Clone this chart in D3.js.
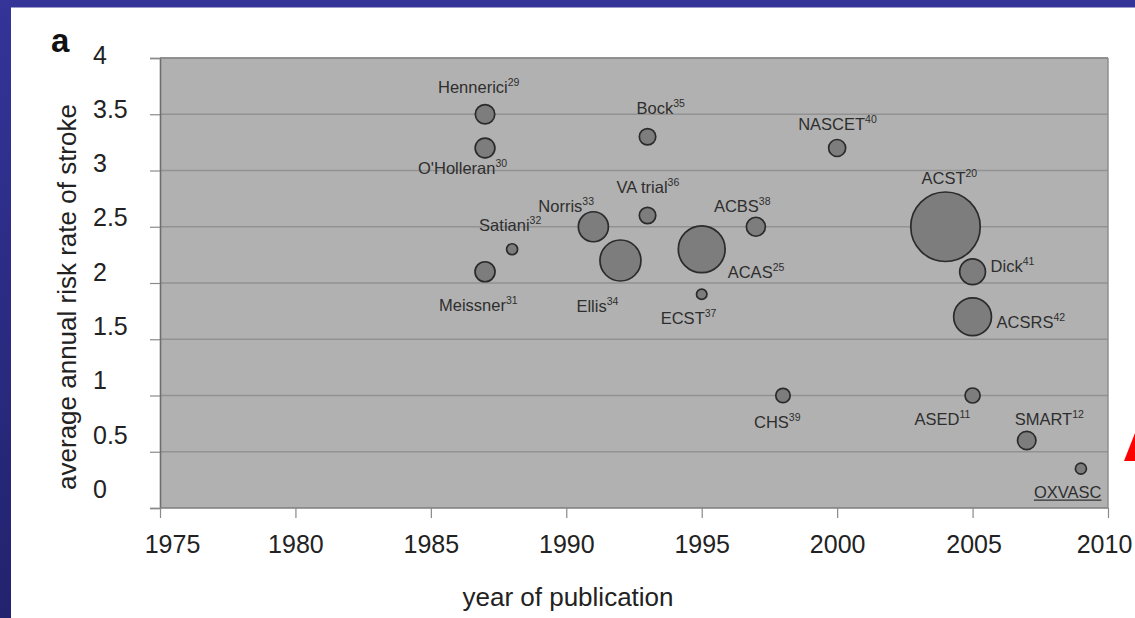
<!DOCTYPE html>
<html>
<head>
<meta charset="utf-8">
<script src="https://cdn.jsdelivr.net/npm/d3@7"></script>
<style>
  html, body { margin: 0; padding: 0; background: #fff; }
  svg { display: block; }
  text { font-family: "Liberation Sans", Arial, sans-serif; }
</style>
</head>
<body>
<svg id="chart" width="1135" height="618"></svg>
<script>
// ---------- data ----------
const studies = ["Hennerici", "O'Holleran", "Meissner", "Satiani", "Norris", "Ellis", "VA trial", "Bock",
                 "ACAS", "ECST", "ACBS", "NASCET", "CHS", "ACST", "Dick", "ACSRS", "ASED", "SMART", "OXVASC"];
const refs    = ["29", "30", "31", "32", "33", "34", "36", "35", "25", "37", "38", "40", "39", "20", "41", "42", "11", "12", ""];
const years   = [1987, 1987, 1987, 1988, 1991, 1992, 1993, 1993, 1995, 1995, 1997, 2000, 1998, 2004, 2005, 2005, 2005, 2007, 2009];
const rates   = [3.5, 3.2, 2.1, 2.3, 2.5, 2.2, 2.6, 3.3, 2.3, 1.9, 2.5, 3.2, 1.0, 2.5, 2.1, 1.7, 1.0, 0.6, 0.35];
const sizes   = [246, 256, 261, 79, 588, 1098, 176, 176, 1430, 71, 236, 189, 135, 3150, 435, 933, 147, 221, 79];
const yTicks  = [0, 0.5, 1, 1.5, 2, 2.5, 3, 3.5, 4];
const xTicks  = [1975, 1980, 1985, 1990, 1995, 2000, 2005, 2010];

// label layout (offset of text start / baseline from bubble centre)
const labelDx = [-47, -67, -46, -33, -55, -44, -31, -11, 26, -41, -42, -39, -29, -24, 18, 24, -58, -12, -47];
const labelDy = [-21, 26, 39, -18, -15, 51, -23, -23, 29, 30, -15, -18, 32, -43, 0, 11, 29, -16, 29];

// ---------- drawing ----------
const svg = d3.select("#chart");
const defs = svg.append("defs");
const grad = defs.append("linearGradient").attr("id", "bg").attr("x1", 0).attr("y1", 0).attr("x2", 0).attr("y2", 1);
grad.append("stop").attr("offset", "0%").attr("stop-color", "#343499");
grad.append("stop").attr("offset", "100%").attr("stop-color", "#22226e");

svg.append("rect").attr("width", 1135).attr("height", 618).attr("fill", "url(#bg)");
svg.append("rect").attr("x", 11).attr("y", 7.5).attr("width", 1135).attr("height", 618).attr("fill", "#ffffff");

const x = d3.scaleLinear().domain([1975, 2010]).range([160, 1108]);
const y = d3.scaleLinear().domain([0, 4]).range([508, 58]);
const yLab = d3.scaleLinear().domain([0, 4]).range([489, 54.5]);
const r = d3.scaleSqrt().domain([0, 3200]).range([0, 35]);

// plot background
svg.append("rect")
  .attr("x", x(1975)).attr("y", y(4))
  .attr("width", x(2010) - x(1975)).attr("height", y(0) - y(4))
  .attr("fill", "#b1b1b1");

// gridlines
svg.append("g").selectAll("line").data(yTicks.filter(d => d > 0)).join("line")
  .attr("x1", x(1975)).attr("x2", x(2010))
  .attr("y1", d => y(d)).attr("y2", d => y(d))
  .attr("stroke", "#929292").attr("stroke-width", 1.3);

// y axis ticks (marks)
const yAxis = svg.append("g").attr("transform", `translate(${x(1975)},0)`)
  .call(d3.axisLeft(y).tickValues(yTicks).tickSize(10).tickFormat(""));
yAxis.select(".domain").attr("stroke", "#6e6e6e").attr("stroke-width", 1.6);
yAxis.selectAll(".tick line").attr("stroke", "#8a8a8a").attr("stroke-width", 1.2);

// y tick labels
svg.append("g").selectAll("text").data(yTicks).join("text")
  .attr("x", 93).attr("y", d => yLab(d)).attr("dy", "0.36em")
  .attr("font-size", 25).attr("fill", "#222")
  .text(d => d3.format("")(d));

// x axis
const xAxis = svg.append("g").attr("transform", `translate(0,${y(0)})`)
  .call(d3.axisBottom(x).tickValues(xTicks).tickSize(10).tickPadding(17).tickFormat(d3.format("d")));
xAxis.select(".domain").attr("stroke", "#7e7e7e").attr("stroke-width", 1.6).attr("d", `M${x(1975)},0H${x(2010)}`);
xAxis.selectAll(".tick line").attr("stroke", "#8a8a8a").attr("stroke-width", 1.2);
xAxis.selectAll(".tick text").attr("font-size", 25).attr("fill", "#222")
  .attr("font-family", "Liberation Sans, Arial, sans-serif")
  .attr("dx", d => d === 1975 ? 12 : d === 2010 ? -4 : d === 2005 ? 1 : 0);

// right border
svg.append("line").attr("x1", x(2010)).attr("x2", x(2010)).attr("y1", y(4)).attr("y2", y(0))
  .attr("stroke", "#8a8a8a").attr("stroke-width", 1.4);
svg.append("line").attr("x1", x(1975)).attr("x2", x(2010)).attr("y1", y(4)).attr("y2", y(4))
  .attr("stroke", "#8a8a8a").attr("stroke-width", 1.4);

// bubbles
const idx = d3.range(studies.length);
svg.append("g").selectAll("circle").data(idx).join("circle")
  .attr("cx", i => x(years[i])).attr("cy", i => y(rates[i]))
  .attr("r", i => r(sizes[i]))
  .attr("fill", "#7d7d7d").attr("stroke", "#2b2b2b").attr("stroke-width", 1.7);

// labels
const lab = svg.append("g").selectAll("text").data(idx).join("text")
  .attr("x", i => x(years[i]) + labelDx[i])
  .attr("y", i => y(rates[i]) + labelDy[i])
  .attr("font-size", 16.5).attr("fill", "#2e2e2e");
lab.append("tspan").text(i => studies[i]);
lab.append("tspan").attr("dy", -7).attr("font-size", 10.5).text(i => refs[i]);

// underline for label without reference
lab.filter(i => refs[i] === "").each(function(i) {
  const w = this.getComputedTextLength();
  const x0 = x(years[i]) + labelDx[i];
  const y0 = y(rates[i]) + labelDy[i] + 2.5;
  svg.append("line").attr("x1", x0).attr("x2", x0 + w).attr("y1", y0).attr("y2", y0)
    .attr("stroke", "#333").attr("stroke-width", 1.3);
});

// axis titles
svg.append("text")
  .attr("transform", `translate(76,${(102 + 492) / 2}) rotate(-90)`)
  .attr("text-anchor", "middle").attr("font-size", 26).attr("fill", "#222")
  .text("average annual risk rate of stroke");
svg.append("text")
  .attr("x", (x(1975) + x(2010)) / 2 - 66).attr("y", 606)
  .attr("text-anchor", "middle").attr("font-size", 26).attr("fill", "#222")
  .text("year of publication");

// panel letter
svg.append("text").attr("x", 51).attr("y", 52)
  .attr("font-size", 33).attr("font-weight", "bold").attr("fill", "#111").text("a");

// red arrow tip
svg.append("polygon").attr("points", "1124,461 1135,433 1135,461").attr("fill", "#ff0000");
</script>
</body>
</html>
